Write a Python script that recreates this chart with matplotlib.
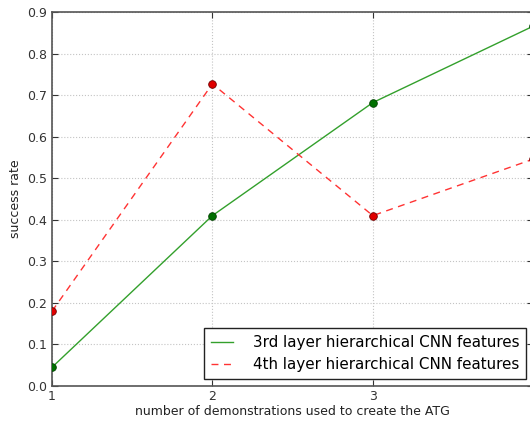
import matplotlib
matplotlib.use("Agg")
import matplotlib.pyplot as plt

# demonstrations used to build the ATG
n_demos = [1, 2, 3, 4]
layer3_rate = [0.045, 0.41, 0.682, 0.866]
layer4_rate = [0.18, 0.727, 0.41, 0.546]
y_ticks = [0.0, 0.1, 0.2, 0.3, 0.4, 0.5, 0.6, 0.7, 0.8, 0.9]

plt.rcParams["font.family"] = "DejaVu Sans"

fig = plt.figure(figsize=(5.3, 4.21), dpi=100)
ax = fig.add_axes([0.0981, 0.0831, 0.908, 0.8884])

ax.plot(n_demos, layer3_rate, "-", color="#33a02c", linewidth=1.0,
        label="3rd layer hierarchical CNN features")
ax.plot(n_demos, layer4_rate, "--", color="#ff3333", linewidth=1.0,
        dashes=(5, 4), label="4th layer hierarchical CNN features")
ax.plot(n_demos, layer3_rate, "o", color="#007000", markersize=5.5,
        markeredgecolor="#004000", markeredgewidth=0.6, zorder=4)
ax.plot(n_demos, layer4_rate, "o", color="#e00000", markersize=5.5,
        markeredgecolor="#700000", markeredgewidth=0.6, zorder=4)

ax.set_xlim(1, 4)
ax.set_ylim(0, 0.9)
ax.set_xticks(n_demos)
ax.set_yticks(y_ticks)
ax.set_yticklabels([f"{v:.1f}" for v in y_ticks])
ax.tick_params(direction="in", length=4, labelsize=9, colors="#333333",
               top=True, right=True)
ax.tick_params(axis="x", pad=3)
for sp in ax.spines.values():
    sp.set_color("#555555")
    sp.set_linewidth(1.2)
ax.grid(True, linestyle=":", color="#c4c4c4", linewidth=0.8)

ax.set_xlabel("number of demonstrations used to create the ATG", fontsize=9,
              color="#222222", labelpad=1)
ax.set_ylabel("success rate", fontsize=9, color="#222222")

leg = ax.legend(loc="lower right", fontsize=10.9, fancybox=False,
                framealpha=1, edgecolor="#222222", handlelength=1.5,
                handletextpad=1.3, borderaxespad=0.45, borderpad=0.45)
leg.get_frame().set_linewidth(1.0)

fig.savefig("out.png", dpi=100)
